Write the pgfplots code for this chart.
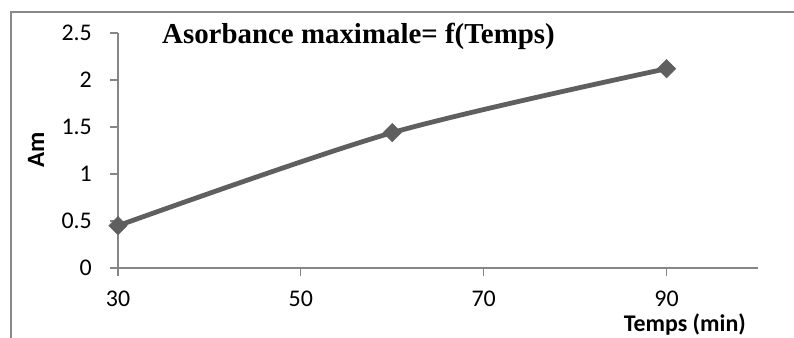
\documentclass[border=0pt]{standalone}
\usepackage{pgfplots}
\pgfplotsset{compat=1.18}
\usepackage{fontspec}
\setmainfont{Carlito}
\newfontfamily\titlefont{Liberation Serif}

\definecolor{axisgray}{HTML}{868686}
\definecolor{framegray}{HTML}{898989}
\definecolor{seriesgray}{HTML}{5F5F5F}

\begin{document}
\begin{tikzpicture}
\useasboundingbox (0,0) rectangle (794bp,338bp);
% chart area border
\draw[framegray, line width=1.2bp] (11bp,0) -- (11bp,326bp) -- (794bp,326bp);
\begin{axis}[
  at={(118bp,70bp)}, anchor=south west,
  width=640bp, height=235bp, scale only axis,
  xmin=30, xmax=100, ymin=0, ymax=2.5,
  axis x line*=bottom, axis y line*=left,
  axis line style={axisgray, line width=1.2bp},
  xtick={30,50,70,90}, ytick={0,0.5,1,1.5,2,2.5},
  tick style={axisgray, line width=1.2bp},
  tick align=outside, major tick length=8bp,
  /pgf/number format/assume math mode=true,
  ticklabel style={font=\fontsize{24}{28}\selectfont, inner sep=0pt},
  xticklabel style={anchor=base, yshift=-31bp},
  yticklabel style={anchor=east, xshift=-18bp},
  clip=false,
]
\addplot[seriesgray, line width=4.8bp, smooth,
  mark=square*, mark size=6.5bp,
  mark options={rotate=45, line width=0.5bp, solid, fill=seriesgray}]
  coordinates {(30,0.45) (60,1.44) (90,2.12)};
\end{axis}
\node[anchor=base west, inner sep=0pt, font=\titlefont\bfseries\fontsize{29}{34}\selectfont]
  at (162bp,294bp) {Asorbance maximale= f(Temps)};
\node[rotate=90, inner sep=0pt, font=\bfseries\fontsize{25}{30}\selectfont]
  at (36bp,188bp) {Am};
\node[anchor=base east, inner sep=0pt, font=\bfseries\fontsize{24}{28}\selectfont]
  at (746bp,7bp) {Temps (min)};
\end{tikzpicture}
\end{document}
